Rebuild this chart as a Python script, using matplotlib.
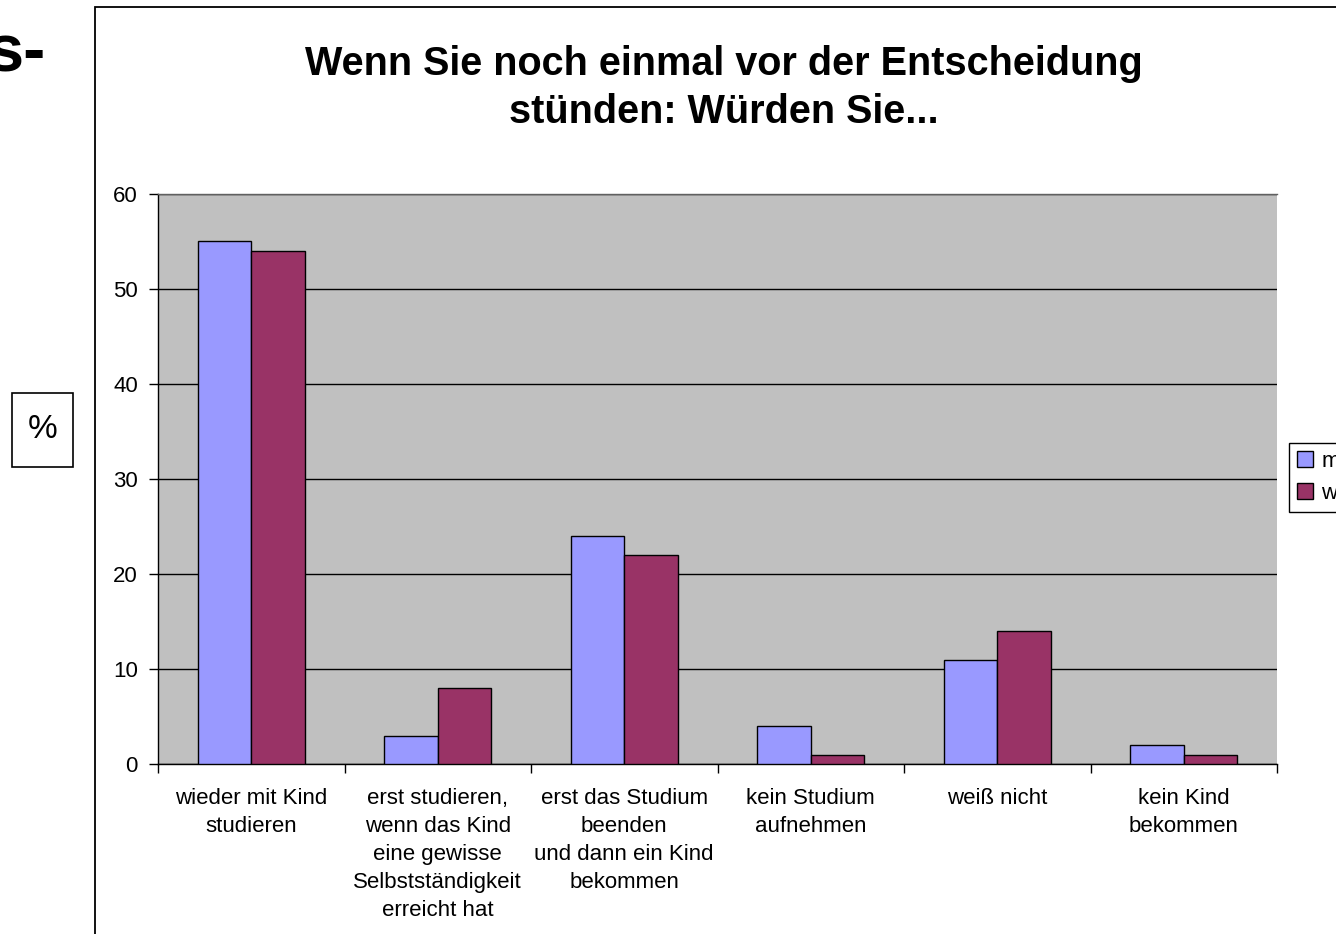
import numpy as np
import matplotlib
matplotlib.use("Agg")
import matplotlib.pyplot as plt
from matplotlib.patches import Rectangle

# Daten
kategorien = ["wieder mit Kind\nstudieren",
              "erst studieren,\nwenn das Kind\neine gewisse\nSelbstständigkeit\nerreicht hat",
              "erst das Studium\nbeenden\nund dann ein Kind\nbekommen",
              "kein Studium\naufnehmen",
              "weiß nicht",
              "kein Kind\nbekommen"]
maennlich = [55, 3, 24, 4, 11, 2]
weiblich = [54, 8, 22, 1, 14, 1]
serien = ["männlich", "weiblich"]
y_ticks = [0, 10, 20, 30, 40, 50, 60]

plt.rcParams['font.family'] = ['Liberation Sans', 'DejaVu Sans']

W, H = 1336, 934
fig = plt.figure(figsize=(W / 100, H / 100), dpi=100)
fig.patch.set_facecolor('white')

ax = fig.add_axes([158 / W, 1 - 764 / H, (1277 - 158) / W, (764 - 194) / H])
ax.set_facecolor('#C0C0C0')

x = np.arange(len(kategorien))
bw = 0.287
ax.bar(x - bw / 2, maennlich, bw, color='#9999FF', edgecolor='black', linewidth=1, label=serien[0], zorder=3)
ax.bar(x + bw / 2, weiblich, bw, color='#993366', edgecolor='black', linewidth=1, label=serien[1], zorder=3)

ax.set_xlim(-0.5, len(kategorien) - 0.5)
ax.set_ylim(0, 60)
ax.set_yticks(y_ticks)
ax.yaxis.grid(True, color='black', linewidth=1, zorder=1)
ax.set_axisbelow(True)

ax.set_xticks(x)
ax.set_xticklabels(kategorien, fontsize=16, linespacing=1.45, va='top')
ax.tick_params(axis='x', length=0, pad=17)
ax.set_xticks(np.arange(-0.5, len(kategorien)), minor=True)
ax.tick_params(axis='x', which='minor', length=6.5, direction='out', width=1)
ax.tick_params(axis='y', length=6.5, direction='out', width=1, labelsize=16, pad=8)

ax.spines['right'].set_visible(False)
ax.spines['left'].set_linewidth(1)
ax.spines['bottom'].set_linewidth(1)
ax.spines['top'].set_color('#606060')
ax.spines['top'].set_linewidth(1)

# Titel
fig.text(723.5 / W, 1 - 88 / H,
         "Wenn Sie noch einmal vor der Entscheidung\nstünden: Würden Sie...",
         ha='center', va='center', fontsize=28.5, fontweight='bold', linespacing=1.35)

# Rahmen des Diagramms
fig.add_artist(Rectangle((95 / W, -0.1), 1, 1.1 - 7 / H, transform=fig.transFigure,
                         fill=False, edgecolor='black', linewidth=1.3))

# Legende (rechts abgeschnitten)
ax.legend(loc='upper left', bbox_to_anchor=(1289 / W, 1 - 443 / H), bbox_transform=fig.transFigure,
          borderaxespad=0, fancybox=False, edgecolor='black', framealpha=1, fontsize=16,
          handlelength=0.75, handleheight=0.75, handletextpad=0.35, borderpad=0.35, labelspacing=0.5)

# "%" Kasten links
fig.add_artist(Rectangle((12 / W, 1 - 467 / H), 61 / W, 74 / H, transform=fig.transFigure,
                         fill=False, edgecolor='black', linewidth=1.2))
fig.text(42.5 / W, 1 - 430 / H, "%", ha='center', va='center', fontsize=24)

# angeschnittener Folientitel
fig.text(46 / W, 1 - 55 / H, "s-", ha='right', va='center', fontsize=48, fontweight='bold')

fig.savefig('out.png', dpi=100)
